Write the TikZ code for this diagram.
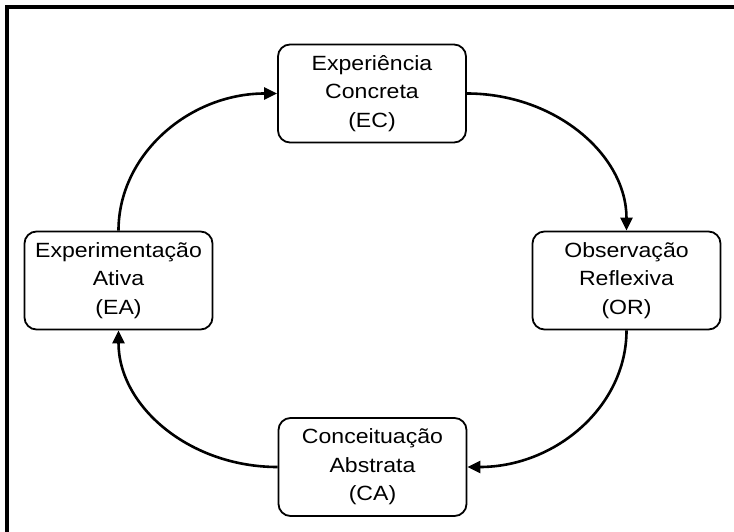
\documentclass[tikz,border=0pt]{standalone}
\usepackage{fontspec}
\setmainfont{Liberation Sans}[FakeStretch=1.12]
\usetikzlibrary{arrows.meta}
\begin{document}
\begin{tikzpicture}[x=1pt,y=1pt,
  stage/.style={draw=black, line width=1.8pt, rounded corners=12pt,
    minimum width=188pt, minimum height=98pt, align=center, inner sep=0pt,
    font=\fontsize{20.6}{28.5}\selectfont},
  cycle/.style={line width=2.6pt, -{Triangle[length=13pt,width=12pt]}},
  frame/.style={line width=4pt, line join=miter}]
  % page extent
  \useasboundingbox (0,0) rectangle (734,-532);
  % frame on the top and left edges
  \draw[frame] (734,-7) -- (7,-7) -- (7,-532);

  % the four stages of the learning cycle
  \node[stage] (ec) at (372,-93.5)   {Experiência\\Concreta\\(EC)};
  \node[stage] (or) at (626.5,-280.5) {Observação\\Reflexiva\\(OR)};
  \node[stage] (ca) at (372.5,-467)  {Conceituação\\Abstrata\\(CA)};
  \node[stage] (ea) at (118.5,-280.5) {Experimentação\\Ativa\\(EA)};

  % curved arrows running clockwise between stages
  \draw[cycle] (ea.north) .. controls +(0,76) and +(-88,0) .. (ec.west);
  \draw[cycle] (ec.east) .. controls +(88,0) and +(0,76) .. (or.north);
  \draw[cycle] (or.south) .. controls +(0,-76) and +(88,0) .. (ca.east);
  \draw[cycle] (ca.west) .. controls +(-88,0) and +(0,-76) .. (ea.south);
\end{tikzpicture}
\end{document}
